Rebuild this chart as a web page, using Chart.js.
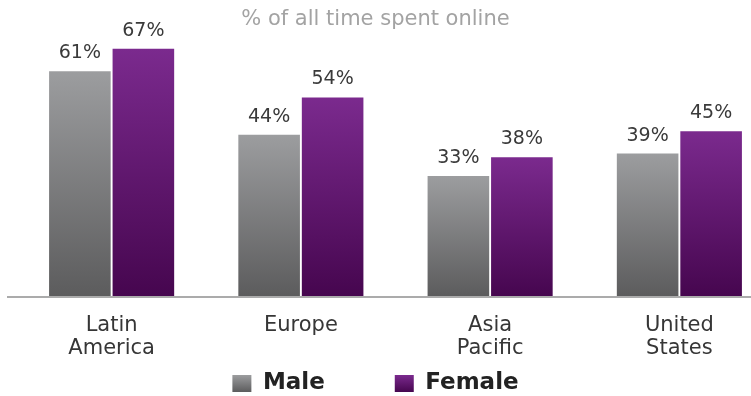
<!DOCTYPE html>
<html>
<head>
<meta charset="utf-8">
<script src="https://cdn.jsdelivr.net/npm/chart.js@4.4.0/dist/chart.umd.min.js"></script>
<style>
    html, body { margin: 0; padding: 0; background: #fff; overflow: hidden; }
    canvas { display: block; }
</style>
</head>
<body>
<canvas id="online-time" width="774" height="396"></canvas>
<script>
// 数据
const chartTitle = '% of all time spent online';
const regions = [['Latin', 'America'], 'Europe', ['Asia', 'Pacific'], ['United', 'States']];
const seriesNames = ['Male', 'Female'];
const maleShare = [61, 44, 33, 39];
const femaleShare = [67, 54, 38, 45];

// 颜色（顶部 / 底部）
const maleColors = ['#9c9d9f', '#5c5c5d'];
const femaleColors = ['#7b2a8e', '#46064f'];

// 可见宽度（画布比窗口宽，最右一组柱子被裁掉一截）
const VIEW_WIDTH = 751;

function verticalGradient(c, top, bottom, colors) {
    const gradient = c.createLinearGradient(0, top, 0, bottom);
    gradient.addColorStop(0, colors[0]);
    gradient.addColorStop(1, colors[1]);
    return gradient;
}

// 柱子渐变：顶部浅，底部深
function barFill(colors) {
    return (context) => {
        const chart = context.chart;
        const area = chart.chartArea;
        if (!area || context.type !== 'data') {
            return colors[1];
        }
        const top = chart.scales.y.getPixelForValue(context.raw);
        return verticalGradient(chart.ctx, top, area.bottom, colors);
    };
}

// 柱顶百分比
const valueLabels = {
    id: 'valueLabels',
    afterDatasetsDraw(chart) {
        const ctx = chart.ctx;
        ctx.save();
        ctx.font = '19px "DejaVu Sans", sans-serif';
        ctx.fillStyle = '#3a3a3a';
        ctx.textAlign = 'center';
        ctx.textBaseline = 'alphabetic';
        chart.data.datasets.forEach((dataset, i) => {
            chart.getDatasetMeta(i).data.forEach((bar, j) => {
                ctx.fillText(dataset.data[j] + '%', bar.x, bar.y - 13);
            });
        });
        ctx.restore();
    }
};

// 底部基线，比绘图区更靠左
const baseline = {
    id: 'baseline',
    afterDatasetsDraw(chart) {
        const ctx = chart.ctx;
        const y = chart.chartArea.bottom + 1;
        ctx.save();
        ctx.strokeStyle = '#ababab';
        ctx.lineWidth = 2;
        ctx.beginPath();
        ctx.moveTo(7, y);
        ctx.lineTo(chart.width, y);
        ctx.stroke();
        ctx.restore();
    }
};

// 标题和图例按可见区域居中，图例放到坐标标签下方
const legendGap = 70;
const legendRowY = 372;
const recenter = {
    id: 'recenter',
    afterLayout(chart) {
        [chart.titleBlock, chart.legend].forEach(box => {
            if (box) {
                box.left = 0;
                box.right = VIEW_WIDTH;
                box.width = VIEW_WIDTH;
            }
        });
        chart.legend.top = legendRowY - legendGap;
    }
};

const ctx = document.getElementById('online-time').getContext('2d');
Chart.defaults.font.family = '"DejaVu Sans", sans-serif';

const chart = new Chart(ctx, {
    type: 'bar',
    data: {
        labels: regions,
        datasets: [
            {
                label: seriesNames[0],
                data: maleShare,
                backgroundColor: barFill(maleColors),
                borderWidth: 0,
                barPercentage: 0.97,
                categoryPercentage: 0.671
            },
            {
                label: seriesNames[1],
                data: femaleShare,
                backgroundColor: barFill(femaleColors),
                borderWidth: 0,
                barPercentage: 0.97,
                categoryPercentage: 0.671
            }
        ]
    },
    options: {
        responsive: false,
        animation: false,
        layout: {
            padding: { left: 17, right: 0, top: 0, bottom: 0 }
        },
        scales: {
            x: {
                grid: { display: false, drawTicks: false },
                border: { display: false },
                ticks: {
                    color: '#363636',
                    font: { size: 21, lineHeight: 1.12 },
                    padding: 17.6,
                    maxRotation: 0,
                    autoSkip: false
                }
            },
            y: {
                display: false,
                min: 1,
                max: 70
            }
        },
        plugins: {
            title: {
                display: true,
                text: chartTitle,
                color: '#a3a3a3',
                font: { size: 21, weight: 'normal', lineHeight: 1.2 },
                padding: { top: 7, bottom: 5.25 }
            },
            legend: {
                position: 'bottom',
                maxHeight: 17.76,
                labels: {
                    boxWidth: 19,
                    boxHeight: 17,
                    padding: legendGap,
                    color: '#222',
                    font: { size: 23, weight: 'bold' },
                    generateLabels(chart) {
                        const items = Chart.defaults.plugins.legend.labels.generateLabels(chart);
                        const palette = [maleColors, femaleColors];
                        items.forEach((item, i) => {
                            const g = verticalGradient(chart.ctx, legendRowY + 3, legendRowY + 20,
                                [palette[i][0], palette[i][1]]);
                            item.fillStyle = g;
                            item.strokeStyle = g;
                            item.lineWidth = 0;
                        });
                        return items;
                    }
                }
            },
            tooltip: { enabled: false }
        }
    },
    plugins: [valueLabels, baseline, recenter]
});
</script>
</body>
</html>
